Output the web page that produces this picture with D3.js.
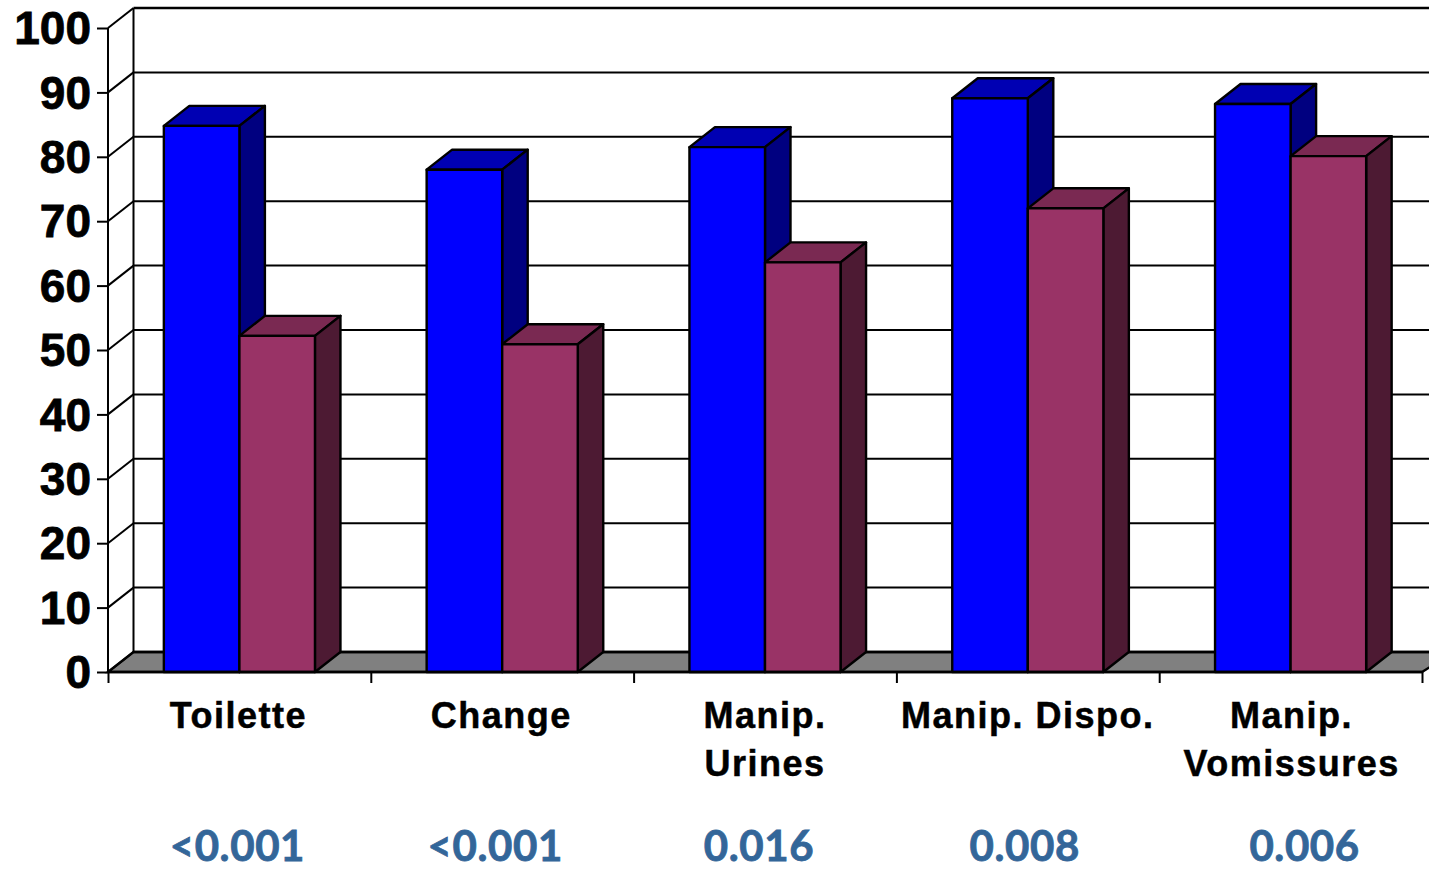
<!DOCTYPE html>
<html>
<head>
<meta charset="utf-8">
<script src="https://cdn.jsdelivr.net/npm/d3@7"></script>
<style>
  body { margin: 0; background: #fff; }
  svg { display: block; }
  .tick text { font-family: "Liberation Sans", Arial, sans-serif; font-weight: bold; fill: #000; }
</style>
</head>
<body>
<div class="mainDiv"></div>
<script>
const categories = ["Toilette", "Change", "Manip.|Urines", "Manip. Dispo.", "Manip.|Vomissures"];
const blueValues = [84.8, 78, 81.5, 89.1, 88.2];
const maroonValues = [52.2, 50.9, 63.6, 72, 80.1];
const pValues = ["<0.001", "<0.001", "0.016", "0.008", "0.006"];
const yTicks = [0, 10, 20, 30, 40, 50, 60, 70, 80, 90, 100];

// text in the original is not quite centred under the groups
const pShift = [-2, -7, -6, -3, 14];
const labelShift = [-1, -1, 0, 0, 1];

const width = 1429, height = 869;
const margin = { top: 28, right: 7, bottom: 197, left: 108 };
// 3d offset of the back wall
const depthX = 25.5, depthY = -20;

const svg = d3.select('.mainDiv').append('svg')
  .attr('width', width).attr('height', height);

const yScale = d3.scaleLinear()
  .domain([0, 100])
  .range([height - margin.bottom, margin.top]);

const xScale = d3.scaleBand()
  .domain(categories)
  .range([margin.left, width - margin.right])
  .paddingInner(0.425)
  .paddingOuter(0.2125);

const serieScale = d3.scaleBand()
  .domain([0, 1])
  .range([0, xScale.bandwidth()]);

const y0 = yScale(0);

// floor
svg.append('path')
  .attr('d', d3.line()([
    [margin.left, y0],
    [margin.left + depthX, y0 + depthY],
    [width + depthX, y0 + depthY],
    [width - margin.right, y0]
  ]) + 'Z')
  .attr('fill', '#808080')
  .attr('stroke', 'black')
  .attr('stroke-width', 2.4);

// back wall gridlines and the diagonals on the left wall
const grid = svg.append('g');
grid.selectAll('.back')
  .data(yTicks)
  .join('line')
  .attr('class', 'back')
  .attr('x1', margin.left + depthX)
  .attr('x2', width)
  .attr('y1', d => yScale(d) + depthY)
  .attr('y2', d => yScale(d) + depthY)
  .attr('stroke', 'black')
  .attr('stroke-width', d => (d === 100 || d === 0) ? 2.6 : 2);
grid.selectAll('.diag')
  .data(yTicks)
  .join('line')
  .attr('class', 'diag')
  .attr('x1', margin.left)
  .attr('x2', margin.left + depthX)
  .attr('y1', d => yScale(d))
  .attr('y2', d => yScale(d) + depthY)
  .attr('stroke', 'black')
  .attr('stroke-width', 2);
grid.append('line')
  .attr('x1', margin.left + depthX)
  .attr('x2', margin.left + depthX)
  .attr('y1', yScale(100) + depthY)
  .attr('y2', y0 + depthY)
  .attr('stroke', 'black')
  .attr('stroke-width', 2);

// one 3d bar = top, side, front
function drawBar(g, x, w, value, fills) {
  const top = yScale(value);
  const line = d3.line();
  g.append('path')
    .attr('d', line([[x, top], [x + depthX, top + depthY], [x + w + depthX, top + depthY], [x + w, top]]) + 'Z')
    .attr('fill', fills.top);
  g.append('path')
    .attr('d', line([[x + w, top], [x + w + depthX, top + depthY], [x + w + depthX, y0 + depthY], [x + w, y0]]) + 'Z')
    .attr('fill', fills.side);
  g.append('rect')
    .attr('x', x).attr('y', top)
    .attr('width', w).attr('height', y0 - top)
    .attr('fill', fills.front);
}

const blueFill = { front: '#0000ff', top: '#0000b3', side: '#000080' };
const maroonFill = { front: '#993366', top: '#7a2952', side: '#4d1a33' };

const cells = svg.selectAll('.cells')
  .data(categories)
  .join('g')
  .attr('class', 'cells')
  .attr('stroke', 'black')
  .attr('stroke-width', 2.4)
  .attr('stroke-linejoin', 'round');

cells.each(function (d, i) {
  const g = d3.select(this);
  drawBar(g, xScale(d) + serieScale(0), serieScale.bandwidth(), blueValues[i], blueFill);
  drawBar(g, xScale(d) + serieScale(1), serieScale.bandwidth(), maroonValues[i], maroonFill);
});

// y axis
const yAxis = svg.append('g')
  .attr('transform', `translate(${margin.left},0)`)
  .call(d3.axisLeft(yScale).tickValues(yTicks).tickSize(11).tickPadding(6).tickFormat(d3.format('d')));
yAxis.selectAll('path,line').attr('stroke', 'black').attr('stroke-width', 2);
yAxis.select('.domain').attr('d', `M0,${yScale(100)}V${y0}`);
yAxis.selectAll('text')
  .attr('font-size', 46)
  .attr('dy', '0.34em')
  .attr('stroke', 'black')
  .attr('stroke-width', 0.8);

// x axis with ticks between the groups, labels drawn from the band centres
const edges = d3.range(categories.length + 1).map(i => margin.left + i * xScale.step());
const xAxis = svg.append('g')
  .attr('transform', `translate(0,${y0})`)
  .call(d3.axisBottom(d3.scaleIdentity()).tickValues(edges).tickSize(11).tickFormat(''));
xAxis.selectAll('line').attr('stroke', 'black').attr('stroke-width', 2);
xAxis.select('.domain').attr('d', `M${margin.left},0H${edges[edges.length - 1]}`).attr('stroke', 'black').attr('stroke-width', 2.6);

const labels = svg.selectAll('.catLabel')
  .data(categories)
  .join('text')
  .attr('class', 'catLabel')
  .attr('text-anchor', 'middle')
  .attr('font-family', '"Liberation Sans", Arial, sans-serif')
  .attr('font-weight', 'bold')
  .attr('font-size', 36)
  .style('letter-spacing', '1.5px')
  .attr('fill', 'black')
  .attr('stroke', 'black')
  .attr('stroke-width', 0.5);
labels.selectAll('tspan')
  .data((d, i) => d.split('|').map(t => ({ t, cat: d, shift: labelShift[i] })))
  .join('tspan')
  .attr('x', d => xScale(d.cat) + xScale.bandwidth() / 2 + d.shift)
  .attr('y', (d, i) => 728 + i * 48)
  .text(d => d.t);

svg.selectAll('.pLabel')
  .data(pValues)
  .join('text')
  .attr('class', 'pLabel')
  .attr('x', (d, i) => xScale(categories[i]) + xScale.bandwidth() / 2 + pShift[i])
  .attr('y', 860.5)
  .attr('text-anchor', 'middle')
  .attr('font-family', 'Lato, "Open Sans", sans-serif')
  .attr('font-weight', 'bold')
  .attr('font-size', 42)
  .style('letter-spacing', '0.6px')
  .attr('fill', '#336699')
  .attr('stroke', '#336699')
  .attr('stroke-width', 0.8)
  .text(d => d);
</script>
</body>
</html>
